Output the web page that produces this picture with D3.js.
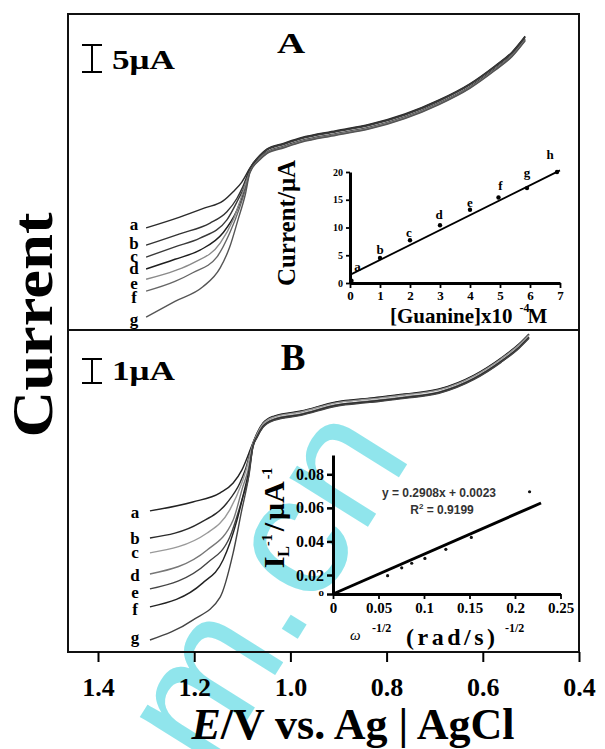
<!DOCTYPE html>
<html><head><meta charset="utf-8">
<script src="https://cdn.jsdelivr.net/npm/d3@7"></script>
<style>
body{margin:0;background:#fff}
svg{display:block}
text{font-family:"Liberation Serif","Times New Roman",serif;font-weight:bold;fill:#000}
</style>
</head><body>
<svg id="c" width="605" height="749"></svg>
<script>
// ---------------- DATA ----------------
const curveLabels = ["a","b","c","d","e","f","g"];
const potentialTicks = [1.4,1.2,1.0,0.8,0.6,0.4];

// Panel A voltammograms: [E (V), current (µA)]
const lowerA = [
  [[1.300,18.9],[1.230,20.9],[1.178,22.6],[1.140,23.9],[1.119,25.6],[1.101,27.4]],
  [[1.300,15.7],[1.230,17.8],[1.167,19.8],[1.132,21.9],[1.111,24.4],[1.099,26.5]],
  [[1.300,13.5],[1.240,15.4],[1.188,17.0],[1.132,20.4],[1.109,24.1],[1.094,26.9]],
  [[1.300,11.3],[1.240,13.1],[1.188,14.8],[1.140,18.0],[1.111,22.2],[1.094,26.3]],
  [[1.300,9.4],[1.240,11.0],[1.203,12.4],[1.146,16.1],[1.119,20.4],[1.099,25.4]],
  [[1.300,7.2],[1.240,9.0],[1.203,10.6],[1.153,13.5],[1.126,18.0],[1.105,22.8],[1.094,25.9]],
  [[1.300,2.4],[1.240,5.3],[1.182,8.0],[1.146,11.5],[1.126,15.4],[1.109,20.4],[1.094,25.0]]
];
const upperA = [[1.084,30.0],[1.063,32.4],[1.049,33.5],[1.013,34.6],[0.978,35.6],[0.905,36.9],
  [0.835,38.1],[0.762,40.0],[0.691,42.6],[0.627,45.6],[0.575,48.9],[0.539,51.5],[0.512,54.4]];
const bandA = [0,0.1,0.2,0.55,0.65,0.75,0.85];

// Panel B voltammograms: [E (V), current (µA)]
const lowerB = [
  [[1.292,5.88],[1.203,6.25],[1.146,6.63],[1.119,7.04],[1.101,7.58]],
  [[1.292,4.75],[1.188,5.38],[1.132,6.21],[1.105,7.04],[1.094,7.58]],
  [[1.292,4.13],[1.173,4.96],[1.126,5.92],[1.101,7.04],[1.092,7.58]],
  [[1.292,3.25],[1.173,4.25],[1.119,5.50],[1.099,6.88],[1.088,7.58]],
  [[1.292,2.63],[1.173,3.71],[1.126,4.79],[1.099,6.46],[1.086,7.38]],
  [[1.292,1.88],[1.182,2.88],[1.140,3.83],[1.111,5.50],[1.094,6.88],[1.086,7.58]],
  [[1.292,0.50],[1.203,1.33],[1.146,2.29],[1.119,4.13],[1.101,5.92],[1.088,7.17]]
];
const upperB = [[1.078,8.71],[1.069,9.13],[1.057,9.54],[1.034,9.83],[0.978,10.04],[0.905,10.42],
  [0.835,10.58],[0.762,10.75],[0.691,10.96],[0.618,11.54],[0.562,12.25],[0.525,12.83],[0.504,13.25]];
const bandB = [0,0.02,0.04,0.12,0.14,0.16,0.18];

// Inset A: current vs [Guanine]
const guanineConc = [0.05,1.0,2.0,3.0,4.0,4.95,5.9,6.9];
const guanineCurrent = [0.4,4.5,7.7,10.4,13.2,15.4,17.1,20.0];
const guanineLabels = ["a","b","c","d","e","f","g","h"];
const guanineFit = [[0.05,1.6],[7.0,20.3]];
const guanineXTicks = [0,1,2,3,4,5,6,7];
const guanineYTicks = [0,5,10,15,20];

// Inset B: 1/I_L vs omega^-1/2
const rotationX = [0.060,0.0755,0.0865,0.101,0.124,0.152,0.216];
const inverseI = [0.0196,0.0243,0.0270,0.0299,0.0353,0.0424,0.0696];
const rotationFit = [[0,0.00868],[0.2286,0.0629]];
const rotationXTicks = [0,0.05,0.1,0.15,0.2,0.25];
const inverseYTicks = [0.02,0.04,0.06,0.08];
const inverseYBase = 0.00868;

// ---------------- LAYOUT / STYLE ----------------
const SERIF = '"Liberation Serif","Times New Roman",serif';
const SANS = '"Liberation Sans",Arial,sans-serif';
const colorsA = ["#2a2a2a","#333","#3a3a3a","#1e1e1e","#8a8a8a","#666","#555"];
const colorsB = ["#222","#2a2a2a","#9a9a9a","#777","#444","#222","#444"];
const labelShiftA = [-3,-2,-1,0,4,6,2];
const labelShiftB = [2,0,0,1,4,3,-3];
const ptLabelOffA = [[6,-14],[0,-8],[-1,-7],[-1,-10],[0,-7],[2,-12],[0,-15],[-7,-17]];

const svg = d3.select("#c");

// watermark (behind)
svg.append("text")
  .attr("transform","translate(212,776) rotate(-58)")
  .style("font-family",SANS).style("font-weight","normal").style("fill","#84e3ea")
  .attr("font-size",175).attr("opacity",0.9).text("m.cn");

const xE = d3.scaleLinear().domain([1.4,0.4]).range([98,579]);
const yA = d3.scaleLinear().domain([0,316/5.4]).range([330,14]);
const yB = d3.scaleLinear().domain([0,322/24]).range([652,330]);

function drawCurves(lower, upper, band, yS, colors, labelShift, labelX){
  const line = d3.line().x(d=>xE(d[0])).y(d=>yS(d[1])).curve(d3.curveMonotoneX);
  lower.forEach((low,i)=>{
    const pts = low.concat(upper.map(p=>[p[0], p[1]-band[i]]));
    svg.append("path").attr("d",line(pts)).attr("fill","none")
      .attr("stroke",colors[i]).attr("stroke-width",1.4);
    svg.append("text").attr("x",labelX).attr("y",yS(low[0][1])+labelShift[i])
      .attr("text-anchor","middle").attr("dominant-baseline","central")
      .attr("font-size",17).text(curveLabels[i]);
  });
}
drawCurves(lowerA, upperA, bandA, yA, colorsA, labelShiftA, 134);
drawCurves(lowerB, upperB, bandB, yB, colorsB, labelShiftB, 135);

// frame
svg.append("rect").attr("x",68).attr("y",14).attr("width",511).attr("height",638)
  .attr("fill","none").attr("stroke","#111").attr("stroke-width",2);
svg.append("line").attr("x1",68).attr("x2",579).attr("y1",330).attr("y2",330)
  .attr("stroke","#111").attr("stroke-width",2);

// bottom axis
const gx = svg.append("g").attr("transform","translate(0,652)")
  .call(d3.axisBottom(xE).tickValues(potentialTicks).tickFormat(d3.format(".1f")).tickSize(10).tickSizeOuter(0));
gx.select(".domain").remove();
gx.selectAll(".tick line").attr("stroke","#000").attr("stroke-width",2);
gx.selectAll(".tick text").attr("y",44).attr("dy",0).attr("font-size",26)
  .style("font-family",SERIF).style("font-weight","bold");

// axis titles
const tt = svg.append("text").attr("x",353).attr("y",739).attr("text-anchor","middle").attr("font-size",44);
tt.append("tspan").style("font-style","italic").text("E");
tt.append("tspan").text("/V vs. Ag | AgCl");
svg.append("text").attr("transform","translate(52,325) rotate(-90)").attr("text-anchor","middle")
  .attr("font-size",58).attr("textLength",225).attr("lengthAdjust","spacingAndGlyphs").text("Current");

// panel labels & scale bars
svg.append("text").attr("transform","translate(291,53) scale(1.3,1)").attr("text-anchor","middle").attr("font-size",30).text("A");
svg.append("text").attr("x",293).attr("y",370).attr("text-anchor","middle").attr("font-size",37).text("B");
function scaleBar(y1,y2,label,baseline){
  const p = d3.path();
  p.moveTo(82,y1); p.lineTo(102,y1); p.moveTo(92,y1); p.lineTo(92,y2); p.moveTo(82,y2); p.lineTo(102,y2);
  svg.append("path").attr("d",p.toString()).attr("stroke","#000").attr("stroke-width",2).attr("fill","none");
  svg.append("text").attr("x",112).attr("y",baseline).attr("font-size",27)
    .attr("textLength",63).attr("lengthAdjust","spacingAndGlyphs").text(label);
}
scaleBar(45,72,"5\u03bcA",69);
scaleBar(359,383,"1\u03bcA",380);

// ---------------- INSET A ----------------
const xIA = d3.scaleLinear().domain([0,7]).range([350,560]);
const yIA = d3.scaleLinear().domain([0,20]).range([283,172]);
function styleAxis(g, fs){
  g.select(".domain").attr("stroke","#000").attr("stroke-width",3);
  g.selectAll(".tick line").attr("stroke","#000").attr("stroke-width",1.8);
  g.selectAll(".tick text").attr("font-size",fs).style("font-family",SERIF).style("font-weight","bold").attr("fill","#000");
}
const iax = svg.append("g").attr("transform","translate(0,283)")
  .call(d3.axisBottom(xIA).tickValues(guanineXTicks).tickFormat(d3.format("d")).tickSize(5).tickSizeOuter(0));
styleAxis(iax,13);
const iay = svg.append("g").attr("transform","translate(350,0)")
  .call(d3.axisLeft(yIA).tickValues(guanineYTicks).tickFormat(d3.format("d")).tickSize(4).tickSizeOuter(0));
styleAxis(iay,10);
svg.append("path").attr("d",d3.line().x(d=>xIA(d[0])).y(d=>yIA(d[1]))(guanineFit))
  .attr("stroke","#000").attr("stroke-width",1.8).attr("fill","none");
guanineConc.forEach((c,i)=>{
  svg.append("circle").attr("cx",xIA(c)).attr("cy",yIA(guanineCurrent[i])).attr("r",2.2).attr("fill","#000");
  svg.append("text").attr("x",xIA(c)+ptLabelOffA[i][0]).attr("y",yIA(guanineCurrent[i])+ptLabelOffA[i][1]+4)
    .attr("text-anchor","middle").attr("font-size",13).text(guanineLabels[i]);
});
svg.append("text").attr("transform","translate(295,223) rotate(-90)").attr("text-anchor","middle")
  .attr("font-size",25).text("Current/\u03bcA");
const gl = svg.append("text").attr("x",390).attr("y",323).attr("font-size",21);
gl.append("tspan").text("[Guanine]x10");
gl.append("tspan").attr("dx",7).attr("dy",-11).attr("font-size",12).text("-4");
gl.append("tspan").attr("dx",-2).attr("dy",11).attr("font-size",21).text("M");

// ---------------- INSET B ----------------
const xIB = d3.scaleLinear().domain([0,0.25]).range([333,560.5]);
const yIB = d3.scaleLinear().domain([inverseYBase,0.0915]).range([594,455]);
const ibx = svg.append("g").attr("transform","translate(0,594)")
  .call(d3.axisBottom(xIB).tickValues(rotationXTicks).tickFormat(d3.format("~g")).tickSize(5).tickSizeOuter(0));
styleAxis(ibx,15);
const iby = svg.append("g").attr("transform","translate(333,0)")
  .call(d3.axisLeft(yIB).tickValues([inverseYBase].concat(inverseYTicks))
    .tickFormat(d=> d===inverseYBase ? "o" : d3.format(".2f")(d)).tickSize(6).tickSizeOuter(0));
styleAxis(iby,16);
iby.selectAll(".tick line").attr("stroke-width",2.5);
iby.selectAll(".tick text").filter(d=>d===inverseYBase).attr("font-size",11).attr("dy","0.1em");
svg.append("path").attr("d",d3.line().x(d=>xIB(d[0])).y(d=>yIB(d[1]))(rotationFit))
  .attr("stroke","#000").attr("stroke-width",3).attr("fill","none");
rotationX.forEach((x,i)=>{
  svg.append("circle").attr("cx",xIB(x)).attr("cy",yIB(inverseI[i])).attr("r",1.6).attr("fill","#111");
});
svg.append("text").attr("x",439).attr("y",497).attr("text-anchor","middle").attr("font-size",12)
  .style("font-family",SANS).style("fill","#333").text("y = 0.2908x + 0.0023");
const r2 = svg.append("text").attr("x",442).attr("y",514).attr("text-anchor","middle").attr("font-size",12)
  .style("font-family",SANS).style("fill","#333");
r2.append("tspan").text("R");
r2.append("tspan").attr("dy",-5).attr("font-size",8).text("2");
r2.append("tspan").attr("dy",5).text(" = 0.9199");

const yl = svg.append("text").attr("transform","translate(284,518) rotate(-90)").attr("text-anchor","middle").attr("font-size",30);
yl.append("tspan").text("I");
yl.append("tspan").attr("dy",5).attr("font-size",16).text("L");
yl.append("tspan").attr("dy",-17).attr("font-size",14).text("-1");
yl.append("tspan").attr("dx",3).attr("dy",12).text("/");
yl.append("tspan").attr("dx",3).text("\u03bcA");
yl.append("tspan").attr("dx",2).attr("dy",-12).attr("font-size",14).text("-1");

svg.append("text").attr("x",350).attr("y",640).attr("font-size",15)
  .style("font-style","italic").style("font-weight","normal").text("\u03c9");
svg.append("text").attr("x",372).attr("y",632).attr("font-size",12).text("-1/2");
svg.append("text").attr("x",406).attr("y",645).attr("font-size",24).attr("letter-spacing",3.5).text("(rad/s)");
svg.append("text").attr("x",505).attr("y",632).attr("font-size",12).text("-1/2");
</script>
</body></html>
